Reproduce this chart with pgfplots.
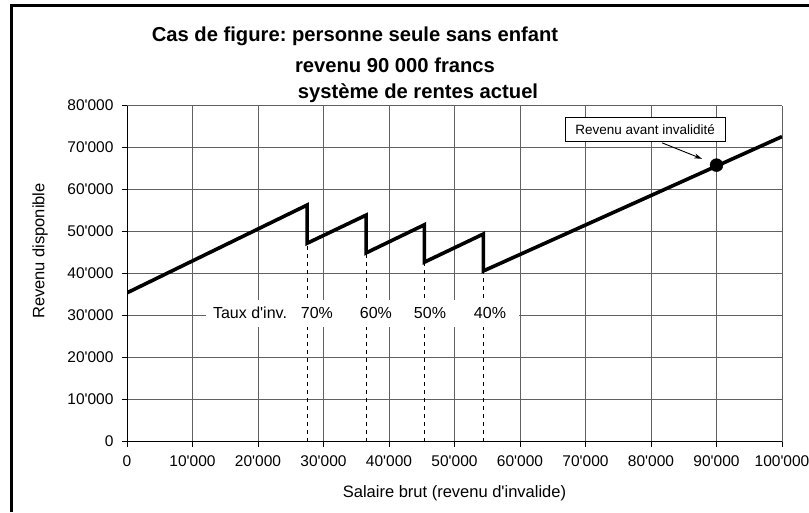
\documentclass[border=0pt]{standalone}
\usepackage{pgfplots}
\pgfplotsset{compat=1.18}
\usepackage{fontspec}
\setmainfont{Liberation Sans}
\usetikzlibrary{arrows.meta}
\frenchspacing

\begin{document}
\begin{tikzpicture}[x=1pt,y=1pt]
\useasboundingbox (0,0) rectangle (809,-512);
\draw[line width=3pt] (11,-512) -- (11,-5) -- (809,-5);
\begin{axis}[
  at={(127pt,-441.5pt)}, anchor=south west,
  scale only axis, width=655pt, height=336pt,
  xmin=0, xmax=100000, ymin=0, ymax=80000,
  xtick={0,10000,...,100000}, ytick={0,10000,...,80000},
  scaled ticks=false,
  /pgf/number format/fixed,
  /pgf/number format/precision=0,
  /pgf/number format/1000 sep={\textquotesingle},
  /pgf/number format/assume math mode=true,
  xticklabel={\pgfmathprintnumber{\tick}},
  yticklabel={\pgfmathprintnumber{\tick}},
  ticklabel style={font=\fontsize{15.5}{17}\selectfont},
  xticklabel style={yshift=-6pt},
  yticklabel style={xshift=-5pt},
  axis lines=left, axis line style={-, black, line width=1pt},
  tick align=outside, major tick length=5pt,
  tick style={black, line width=0.8pt},
  grid=major, grid style={black!62, line width=0.9pt},
  xlabel={Salaire brut (revenu d\textquotesingle invalide)},
  ylabel={Revenu disponible},
  label style={font=\fontsize{16.5}{18}\selectfont},
  xlabel style={at={(axis description cs:0.5,-0.153)}, anchor=center},
  ylabel style={at={(axis description cs:-0.1328,0.567)}, anchor=center},
]
% revenu disponible
\addplot[black, line width=3.6pt] coordinates {
  (0,35400) (27500,56300) (27500,47200) (36500,53900) (36500,44900)
  (45400,51600) (45400,42700) (54400,49400) (54400,40600) (100000,72600)};
% seuils des taux d'invalidite
\addplot[black, dashed, dash pattern=on 4pt off 4pt, line width=0.9pt] coordinates {(27500,0) (27500,47200)};
\addplot[black, dashed, dash pattern=on 4pt off 4pt, line width=0.9pt] coordinates {(36500,0) (36500,44900)};
\addplot[black, dashed, dash pattern=on 4pt off 4pt, line width=0.9pt] coordinates {(45400,0) (45400,42700)};
\addplot[black, dashed, dash pattern=on 4pt off 4pt, line width=0.9pt] coordinates {(54400,0) (54400,40600)};
% revenu avant invalidite
\addplot[only marks, mark=*, mark size=6.5pt, black] coordinates {(90000,65800)};

\fill[white] (axis cs:12060,27260) rectangle (axis cs:59850,33700);
\begin{scope}[every node/.style={font=\fontsize{16}{18}\selectfont, inner sep=0pt}]
\node at (axis cs:18780,30600) {Taux d\textquotesingle inv.};
\node at (axis cs:29000,30600) {70\%};
\node at (axis cs:38000,30600) {60\%};
\node at (axis cs:46260,30600) {50\%};
\node at (axis cs:55420,30600) {40\%};
\end{scope}
\node[draw=black, fill=white, line width=0.8pt, font=\fontsize{13.5}{15}\selectfont,
  minimum width=160pt, minimum height=24pt, inner sep=0pt] at (axis cs:79100,74200) {Revenu avant invalidité};
\draw[-{Stealth[length=8pt,width=5pt]}, line width=0.9pt] (axis cs:81700,71100) -- (axis cs:87800,67300);
\end{axis}
\begin{scope}[every node/.style={font=\fontsize{20.2}{22}\bfseries\selectfont}]
\node at (355,-36) {Cas de figure: personne seule sans enfant};
\node at (395,-65) {revenu 90 000 francs};
\node at (418,-93) {système de rentes actuel};
\end{scope}
\end{tikzpicture}
\end{document}
